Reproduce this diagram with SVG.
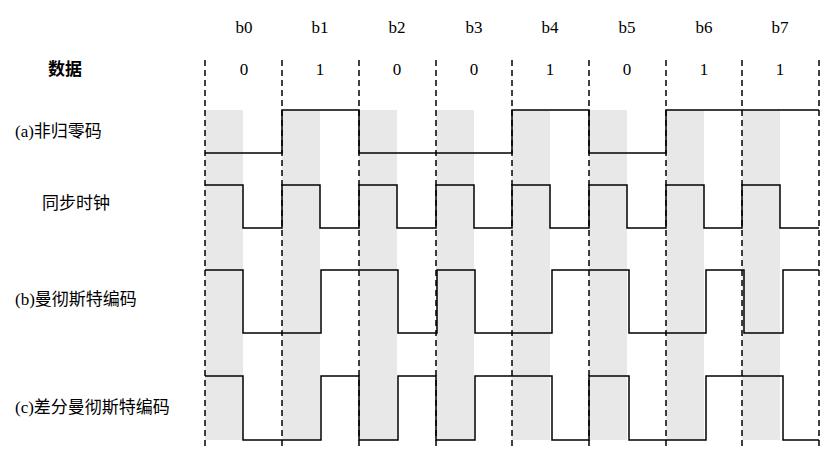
<svg xmlns="http://www.w3.org/2000/svg" width="824" height="456" viewBox="0 0 824 456">
<style>
.t{font-family:"Liberation Serif","Noto Sans CJK SC",serif;font-size:17px;fill:#000}
.m{text-anchor:middle}
.d{stroke:#000;stroke-width:1.5;stroke-dasharray:6,4;fill:none}
.w{stroke:#000;stroke-width:1.5;fill:none}
.s{fill:#e8e8e8}
</style>
<rect width="824" height="456" fill="#fff"/>
<g id="shade">
<rect class="s" x="205" y="110" width="38" height="330"/>
<rect class="s" x="282" y="110" width="38" height="330"/>
<rect class="s" x="359" y="110" width="38" height="330"/>
<rect class="s" x="436" y="110" width="38" height="330"/>
<rect class="s" x="512" y="110" width="38" height="330"/>
<rect class="s" x="589" y="110" width="38" height="330"/>
<rect class="s" x="666" y="110" width="38" height="330"/>
<rect class="s" x="742" y="110" width="38" height="330"/>
</g>
<g id="grid">
<line class="d" x1="205" y1="60" x2="205" y2="450"/>
<line class="d" x1="282" y1="60" x2="282" y2="450"/>
<line class="d" x1="359" y1="60" x2="359" y2="450"/>
<line class="d" x1="436" y1="60" x2="436" y2="450"/>
<line class="d" x1="512" y1="60" x2="512" y2="450"/>
<line class="d" x1="589" y1="60" x2="589" y2="450"/>
<line class="d" x1="666" y1="60" x2="666" y2="450"/>
<line class="d" x1="742" y1="60" x2="742" y2="450"/>
<line class="d" x1="819" y1="60" x2="819" y2="450"/>
</g>
<g id="labels">
<text class="t m" x="244" y="33">b0</text><text class="t m" x="320" y="33">b1</text><text class="t m" x="397" y="33">b2</text><text class="t m" x="474" y="33">b3</text><text class="t m" x="550" y="33">b4</text><text class="t m" x="627" y="33">b5</text><text class="t m" x="704" y="33">b6</text><text class="t m" x="780" y="33">b7</text>
<text class="t m" x="244" y="75">0</text><text class="t m" x="320" y="75">1</text><text class="t m" x="397" y="75">0</text><text class="t m" x="474" y="75">0</text><text class="t m" x="550" y="75">1</text><text class="t m" x="627" y="75">0</text><text class="t m" x="704" y="75">1</text><text class="t m" x="780" y="75">1</text>
<text class="t" x="48" y="75" font-weight="bold">数据</text>
<text class="t" x="15" y="137">(a)非归零码</text>
<text class="t" x="42" y="209">同步时钟</text>
<text class="t" x="15" y="305">(b)曼彻斯特编码</text>
<text class="t" x="15" y="413">(c)差分曼彻斯特编码</text>
</g>
<g id="waves">
<polyline class="w" points="205,153 282,153 282,110 359,110 359,153 512,153 512,110 589,110 589,153 666,153 666,110 819,110"/>
<polyline class="w" points="205,185 243,185 243,228 282,228 282,185 320,185 320,228 359,228 359,185 397,185 397,228 436,228 436,185 474,185 474,228 512,228 512,185 550,185 550,228 589,228 589,185 627,185 627,228 666,228 666,185 704,185 704,228 742,228 742,185 780,185 780,228 819,228"/>
<polyline class="w" points="205,270 243,270 243,333 321,333 321,270 398,270 398,333 437,333 437,270 475,270 475,333 552,333 552,270 629,270 629,333 706,333 706,270 744,270 744,333 783,333 783,270 819,270"/>
<polyline class="w" points="205,376 243,376 243,440 321,440 321,376 359,376 359,440 398,440 398,376 436,376 436,440 475,440 475,376 552,376 552,440 589,440 589,376 629,376 629,440 706,440 706,376 783,376 783,440 819,440"/>
</g>
</svg>
